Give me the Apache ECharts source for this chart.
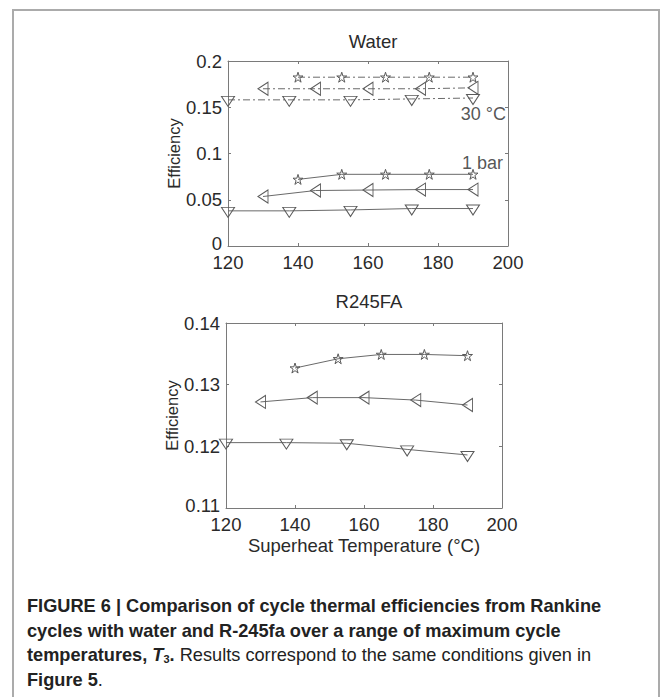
<!DOCTYPE html>
<html>
<head>
<meta charset="utf-8">
<script src="https://cdn.jsdelivr.net/npm/echarts@6/dist/echarts.min.js"></script>
<style>
  html, body { margin: 0; padding: 0; background: #fff; }
  body { width: 667px; height: 697px; position: relative; overflow: hidden; }
  #frame { position: absolute; left: 12px; top: 9px; width: 648px; height: 720px;
           border: 2px solid #ababab; box-sizing: border-box; }
  #chart { position: absolute; left: 0; top: 0; width: 667px; height: 580px; }
  #caption { position: absolute; left: 27px; top: 594px; width: 630px;
             font-family: "Liberation Sans", Arial, sans-serif; font-size: 18.2px;
             line-height: 24.5px; color: #222; white-space: nowrap; }
  #caption b { font-weight: bold; }
  #caption sub { font-size: 11px; line-height: 0; vertical-align: baseline; position: relative; top: 2px; }
</style>
</head>
<body>
<div id="frame"></div>
<div id="chart"></div>
<div id="caption">
<b>FIGURE 6 | Comparison of cycle thermal efficiencies from Rankine</b><br>
<b>cycles with water and R-245fa over a range of maximum cycle</b><br>
<b>temperatures, <i>T</i><sub>3</sub>.</b> Results correspond to the same conditions given in<br>
<b>Figure 5</b>.
</div>
<script>
// ---- Data ----
const starT = [140, 152.5, 165, 177.5, 190];
const leftT = [130, 145, 160, 175, 190];
const downT = [120, 137.5, 155, 172.5, 190];

// Water, 30 °C condenser (dash-dot)
const water30Star = [0.1825, 0.1825, 0.1825, 0.1825, 0.1825];
const water30Left = [0.170, 0.170, 0.170, 0.170, 0.171];
const water30Down = [0.158, 0.158, 0.158, 0.159, 0.160];
// Water, 1 bar condenser (solid)
const water1Star = [0.072, 0.0775, 0.0775, 0.0775, 0.0775];
const water1Left = [0.0535, 0.060, 0.0605, 0.061, 0.061];
const water1Down = [0.038, 0.038, 0.039, 0.0405, 0.0405];
// R245FA (solid)
const r245Star = [0.1327, 0.1342, 0.1349, 0.1349, 0.1347];
const r245Left = [0.1272, 0.1279, 0.1279, 0.1275, 0.1267];
const r245Down = [0.1206, 0.1206, 0.1205, 0.1195, 0.1186];

const xTicks = ['120', '140', '160', '180', '200'];
const waterYTicks = ['0', '0.05', '0.1', '0.15', '0.2'];
const r245YTicks = ['0.11', '0.12', '0.13', '0.14'];

const titles = ['Water', 'R245FA'];
const yName = 'Efficiency';
const xName = 'Superheat Temperature (\u00B0C)';
const notes = [{ text: '30 \u00B0C', x: 199.4, y: 0.1427 }, { text: '1 bar', x: 198.6, y: 0.0894 }];

// ---- Styles ----
const FONT = '"Liberation Sans", Arial, sans-serif';
const TXT = '#2a2a2a';
const AX = '#7a7a7a';
const LN = '#6a6a6a';
const MK = '#5a5a5a';
const dashDot = [7, 3, 2, 3];

const starPath = 'path://M100,0 L122,69 L195,69 L136,112 L159,181 L100,138 L41,181 L64,112 L5,69 L78,69 Z';
const leftPath = 'path://M0,50 L85,0 L85,100 Z';
const downPath = 'path://M0,0 L100,0 L50,78 Z';
const markers = {
  star: { symbol: starPath, size: [10, 10], offset: [0, 0] },
  left: { symbol: leftPath, size: [10, 13], offset: [0, 0] },
  down: { symbol: downPath, size: [13, 10], offset: [0, 1.5] }
};

function pairs(xs, ys) { return xs.map((x, i) => [x, ys[i]]); }

function mkSeries(xs, ys, kind, dashed, axisIdx) {
  const m = markers[kind];
  return {
    type: 'line', xAxisIndex: axisIdx, yAxisIndex: axisIdx,
    data: pairs(xs, ys),
    symbol: m.symbol, symbolSize: m.size, symbolOffset: m.offset,
    showSymbol: true, silent: true, animation: false,
    itemStyle: { color: 'rgba(0,0,0,0)', borderColor: MK, borderWidth: 1 },
    lineStyle: { color: LN, width: 1, type: dashed ? dashDot : 'solid' },
    emphasis: { disabled: true }, z: 3
  };
}

function noteSeries(n) {
  return {
    type: 'scatter', xAxisIndex: 0, yAxisIndex: 0, data: [[n.x, n.y]],
    symbolSize: 0, silent: true, animation: false,
    label: { show: true, position: 'left', distance: 0, formatter: n.text,
             fontFamily: FONT, fontSize: 18, color: TXT }
  };
}

function xAxisCfg(grid, main) {
  return {
    type: 'value', gridIndex: grid, min: 120, max: 200, interval: 20,
    position: main ? 'bottom' : 'top',
    name: main && grid === 1 ? xName : '', nameLocation: 'middle', nameGap: 28,
    nameTextStyle: { fontFamily: FONT, fontSize: 18.5, color: TXT },
    axisLine: { show: true, onZero: false, lineStyle: { color: AX, width: 1 } },
    axisTick: { show: true, inside: true, length: 3, lineStyle: { color: AX } },
    axisLabel: { show: main, margin: 9, fontFamily: FONT, fontSize: 18.5, color: TXT,
                 lineHeight: 15,
                 formatter: v => xTicks[Math.round((v - 120) / 20)] },
    splitLine: { show: false }
  };
}

function yAxisCfg(grid, main, min, max, interval, labels) {
  return {
    type: 'value', gridIndex: grid, min: min, max: max, interval: interval,
    position: main ? 'left' : 'right',
    name: main ? yName : '', nameLocation: 'middle', nameGap: 45,
    nameTextStyle: { fontFamily: FONT, fontSize: 16.5, color: TXT },
    axisLine: { show: true, onZero: false, lineStyle: { color: AX, width: 1 } },
    axisTick: { show: true, inside: true, length: 3, lineStyle: { color: AX } },
    axisLabel: { show: main, margin: 6, fontFamily: FONT, fontSize: 18.5, color: TXT,
                 lineHeight: 15,
                 formatter: (v) => {
                   const i = Math.round((v - min) / interval);
                   return i === 0 ? '{low|' + labels[i] + '}' : labels[i];
                 },
                 rich: { low: { fontFamily: FONT, fontSize: 18.5, color: TXT, lineHeight: 15,
                                padding: [0, 0, 5, 0] } } },
    splitLine: { show: false }
  };
}

const chart = echarts.init(document.getElementById('chart'), null, { renderer: 'svg' });
chart.setOption({
  backgroundColor: 'transparent',
  animation: false,
  title: [
    { text: titles[0], left: 368, top: 27, textAlign: 'center',
      textStyle: { fontFamily: FONT, fontSize: 18.5, fontWeight: 'normal', color: TXT } },
    { text: titles[1], left: 364, top: 287, textAlign: 'center',
      textStyle: { fontFamily: FONT, fontSize: 18.5, fontWeight: 'normal', color: TXT } }
  ],
  grid: [
    { left: 228, top: 61, width: 280, height: 185 },
    { left: 226, top: 323, width: 276, height: 185 }
  ],
  xAxis: [xAxisCfg(0, true), xAxisCfg(1, true), xAxisCfg(0, false), xAxisCfg(1, false)],
  yAxis: [
    yAxisCfg(0, true, 0, 0.2, 0.05, waterYTicks),
    yAxisCfg(1, true, 0.11, 0.14, 0.01, r245YTicks),
    yAxisCfg(0, false, 0, 0.2, 0.05, waterYTicks),
    yAxisCfg(1, false, 0.11, 0.14, 0.01, r245YTicks)
  ],
  series: [
    mkSeries(starT, water30Star, 'star', true, 0),
    mkSeries(leftT, water30Left, 'left', true, 0),
    mkSeries(downT, water30Down, 'down', true, 0),
    mkSeries(starT, water1Star, 'star', false, 0),
    mkSeries(leftT, water1Left, 'left', false, 0),
    mkSeries(downT, water1Down, 'down', false, 0),
    mkSeries(starT, r245Star, 'star', false, 1),
    mkSeries(leftT, r245Left, 'left', false, 1),
    mkSeries(downT, r245Down, 'down', false, 1),
    noteSeries(notes[0]),
    noteSeries(notes[1])
  ]
});
</script>
</body>
</html>
